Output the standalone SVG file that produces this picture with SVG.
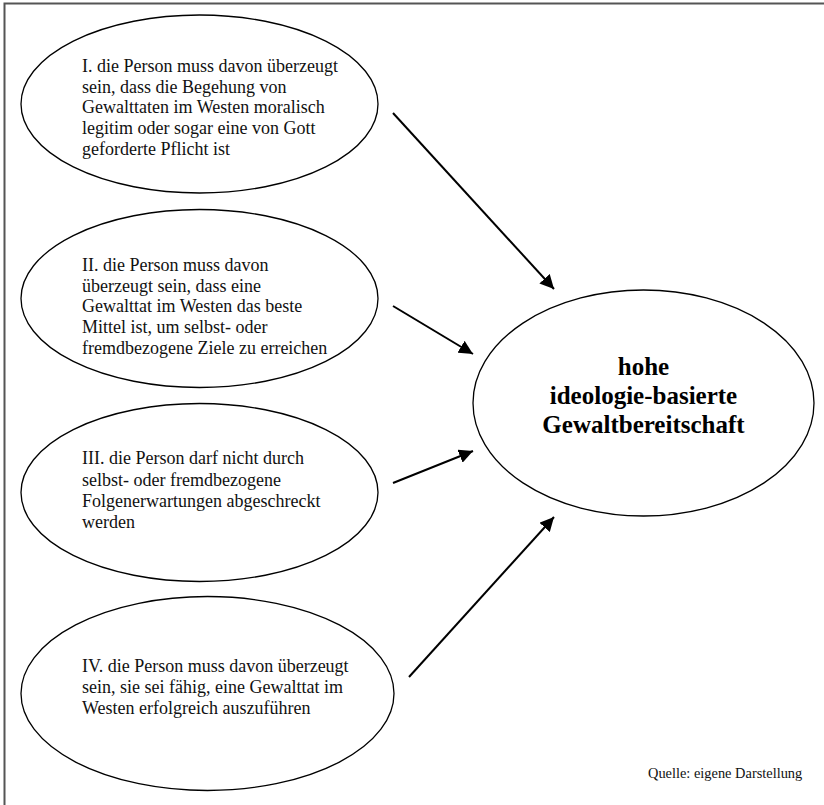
<svg xmlns="http://www.w3.org/2000/svg" width="824" height="805" viewBox="0 0 824 805">
<style>
.node ellipse{fill:#fff;stroke:#000;stroke-width:1.3}
.t{font-family:"Liberation Serif","Times New Roman",serif;font-size:18px;fill:#111}
.b{font-family:"Liberation Serif","Times New Roman",serif;font-size:25px;font-weight:bold;fill:#000;text-anchor:middle}
.q{font-family:"Liberation Serif","Times New Roman",serif;font-size:14.4px;fill:#111}
#edges line{stroke:#000;stroke-width:2;marker-end:url(#ah)}
</style>
<defs>
<marker id="ah" viewBox="0 0 10 10" refX="10" refY="5" markerWidth="7" markerHeight="7" markerUnits="strokeWidth" orient="auto">
<path d="M0,0 L10,5 L0,10 z" fill="#000"/>
</marker>
</defs>
<rect width="824" height="805" fill="#fff"/>
<path d="M4.5,805 V3.5 H824" fill="none" stroke="#555" stroke-width="2"/>
<g id="n1" class="node">
<ellipse cx="199.5" cy="104" rx="178.5" ry="89"/>
<text class="t" x="82" y="72">I. die Person muss davon überzeugt</text>
<text class="t" x="82" y="92.7">sein, dass die Begehung von</text>
<text class="t" x="82" y="113.4">Gewalttaten im Westen moralisch</text>
<text class="t" x="82" y="134.1">legitim oder sogar eine von Gott</text>
<text class="t" x="82" y="154.8">geforderte Pflicht ist</text>
</g>
<g id="n2" class="node">
<ellipse cx="199.5" cy="298.5" rx="178.5" ry="89"/>
<text class="t" x="82" y="271">II. die Person muss davon</text>
<text class="t" x="82" y="291.7">überzeugt sein, dass eine</text>
<text class="t" x="82" y="312.4">Gewalttat im Westen das beste</text>
<text class="t" x="82" y="333.1">Mittel ist, um selbst- oder</text>
<text class="t" x="82" y="353.8">fremdbezogene Ziele zu erreichen</text>
</g>
<g id="n3" class="node">
<ellipse cx="199.5" cy="492.5" rx="178.5" ry="89"/>
<text class="t" x="82" y="464">III. die Person darf nicht durch</text>
<text class="t" x="82" y="485.5">selbst- oder fremdbezogene</text>
<text class="t" x="82" y="507">Folgenerwartungen abgeschreckt</text>
<text class="t" x="82" y="528">werden</text>
</g>
<g id="n4" class="node">
<ellipse cx="207.5" cy="693.5" rx="186.5" ry="97"/>
<text class="t" x="82" y="672">IV. die Person muss davon überzeugt</text>
<text class="t" x="82" y="693">sein, sie sei fähig, eine Gewalttat im</text>
<text class="t" x="82" y="714">Westen erfolgreich auszuführen</text>
</g>
<g id="n5" class="node">
<ellipse cx="643.5" cy="403" rx="170.5" ry="113"/>
<text class="b" x="643.5" y="375">hohe</text>
<text class="b" x="643.5" y="404">ideologie-basierte</text>
<text class="b" x="643.5" y="433">Gewaltbereitschaft</text>
</g>
<g id="edges">
<line x1="393" y1="113" x2="554" y2="289"/>
<line x1="393" y1="306" x2="473" y2="354"/>
<line x1="393" y1="483" x2="473" y2="451"/>
<line x1="409" y1="677" x2="554" y2="517"/>
</g>
<text class="q" x="648" y="778">Quelle: eigene Darstellung</text>
</svg>
